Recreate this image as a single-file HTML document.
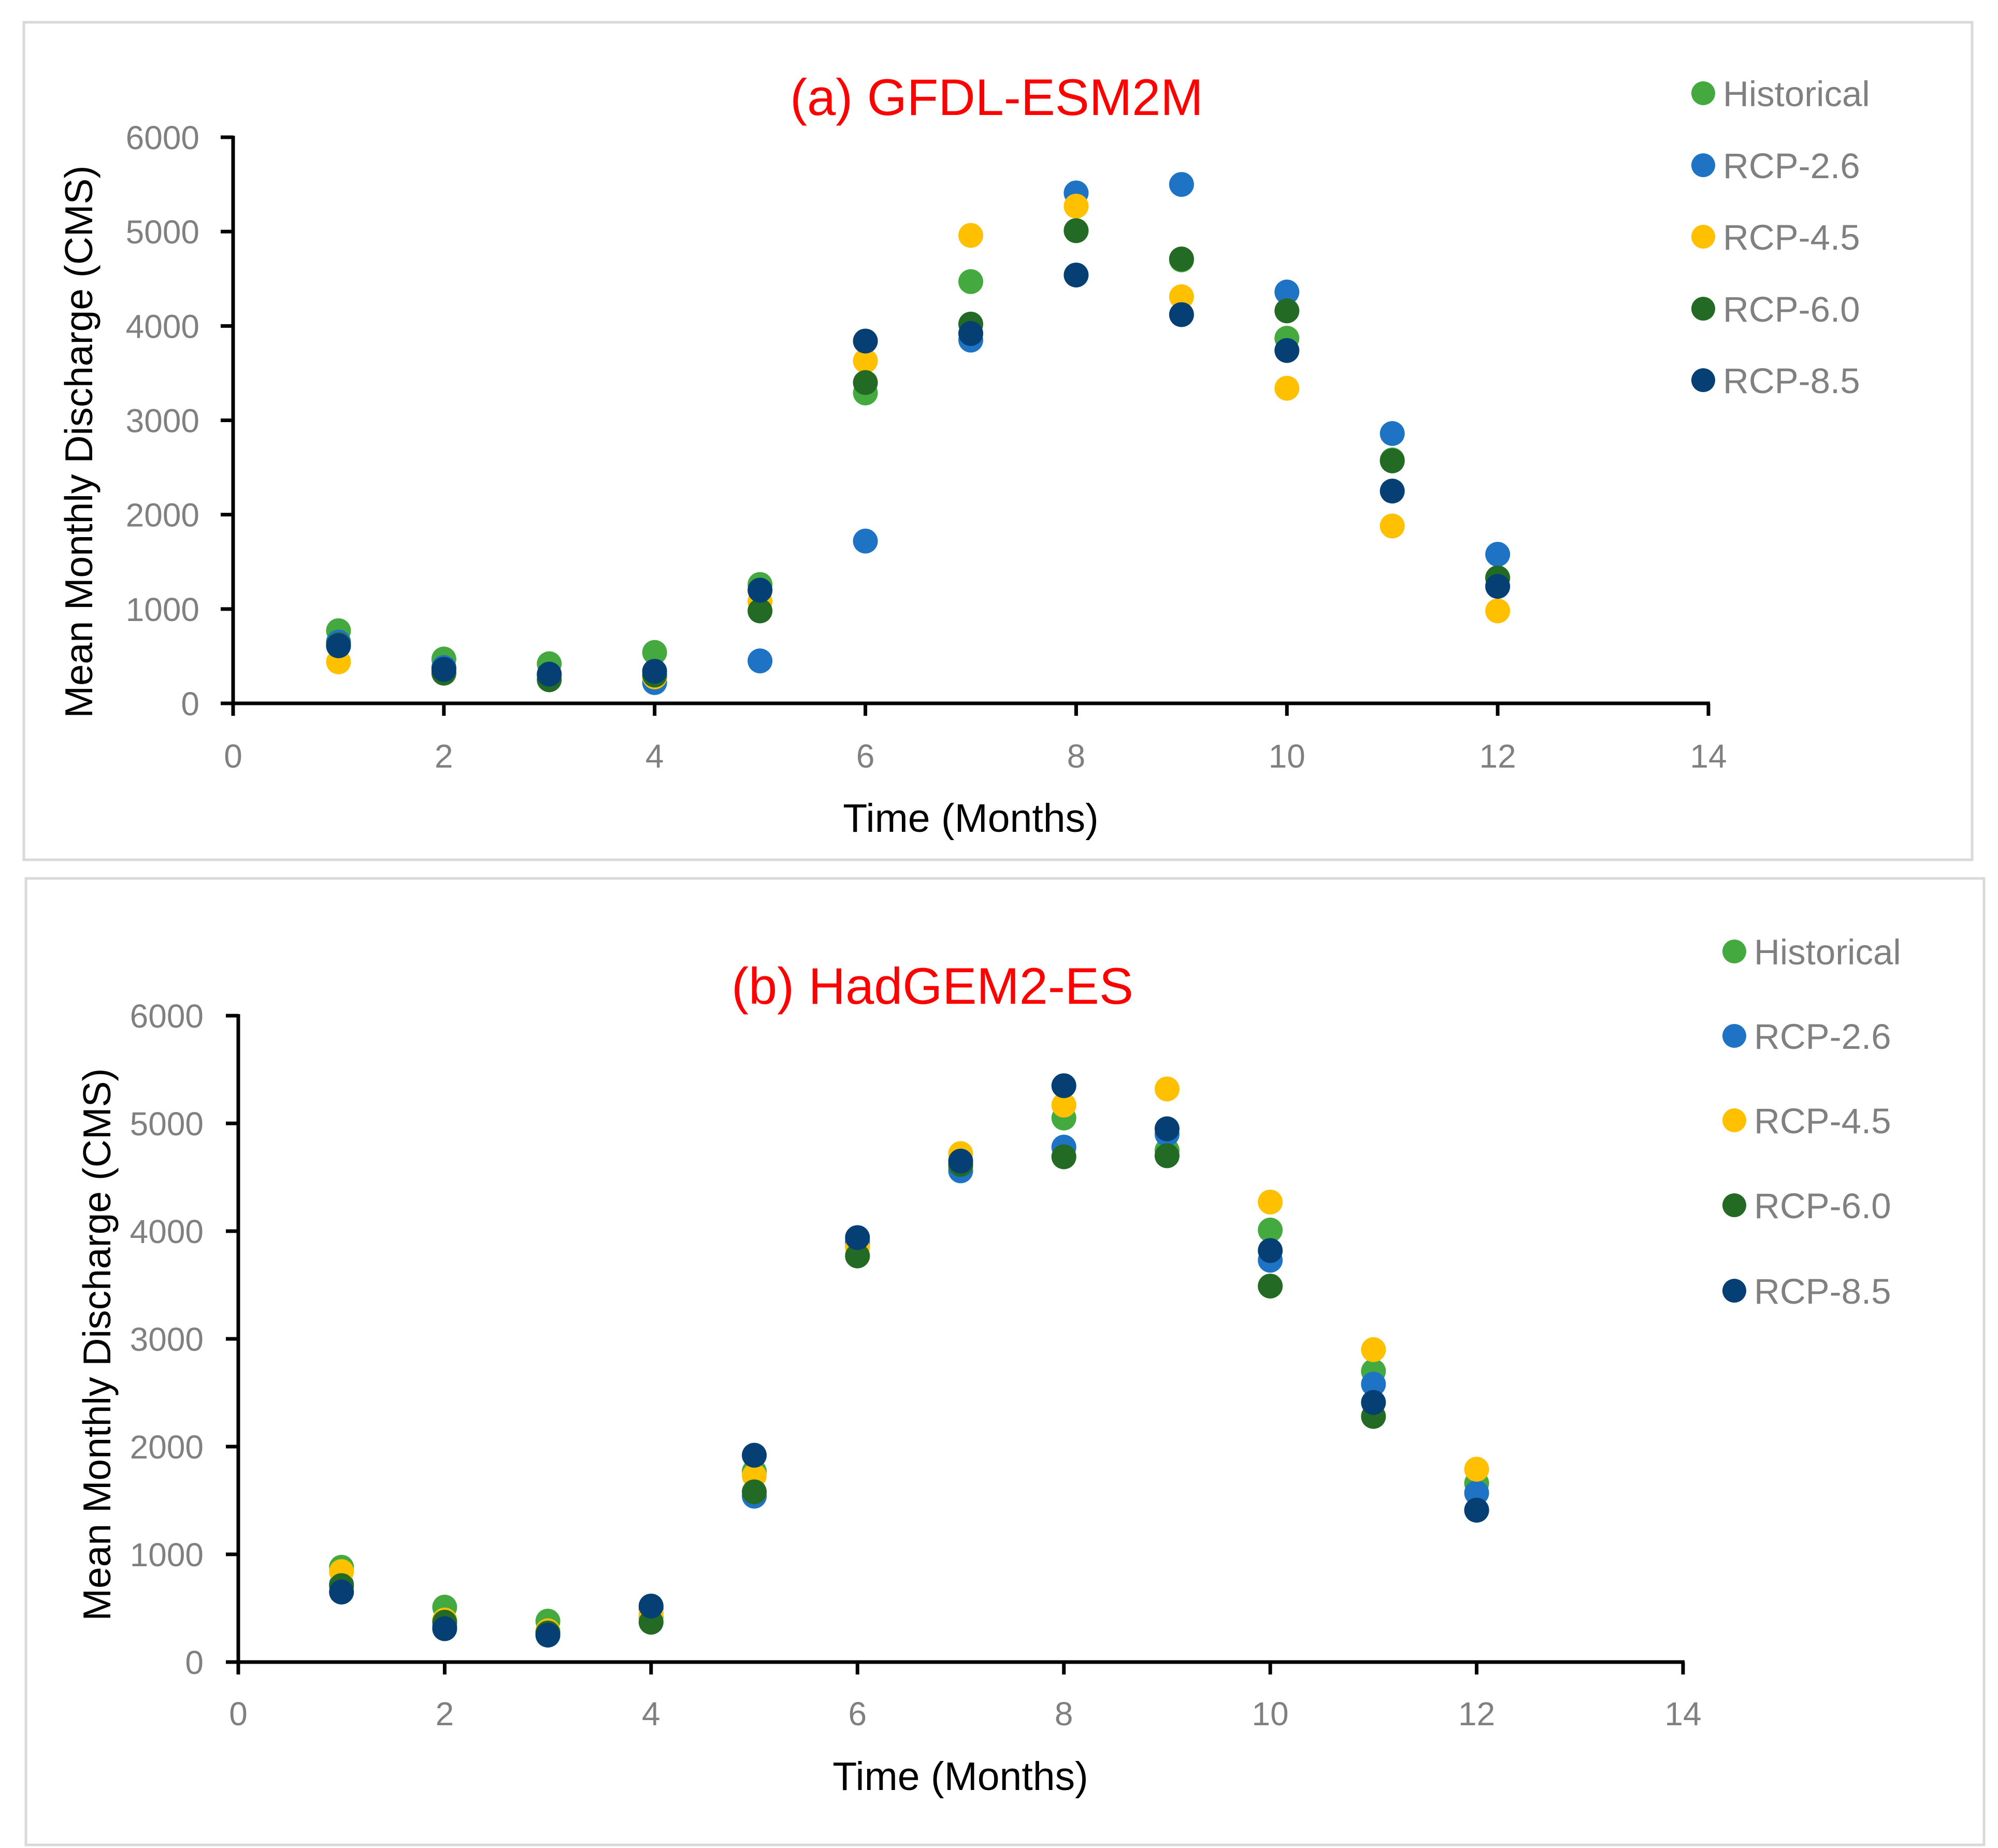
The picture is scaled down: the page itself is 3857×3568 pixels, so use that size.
<!DOCTYPE html>
<html><head><meta charset="utf-8"><style>
html,body{margin:0;padding:0;background:#fff}
svg{display:block}
text{font-family:"Liberation Sans",sans-serif}
</style></head><body>
<svg id="chart" width="3857" height="3568" viewBox="0 0 3857 3568" xmlns="http://www.w3.org/2000/svg"></svg>
<script>
const months = [1,2,3,4,5,6,7,8,9,10,11,12];
const seriesNames = ["Historical","RCP-2.6","RCP-4.5","RCP-6.0","RCP-8.5"];
const seriesColors = ["#44AA3F","#1F73C5","#FFC000","#236B24","#053F73"];
const xTicks = [0,2,4,6,8,10,12,14];
const yTicks = [0,1000,2000,3000,4000,5000,6000];
// Panel (a) GFDL-ESM2M
const aHistorical = [770,470,420,540,1260,3290,4470,5010,4700,3870,2580,1330];
const aRcp26 = [650,380,300,220,450,1720,3850,5410,5500,4360,2860,1580];
const aRcp45 = [440,330,260,280,1080,3630,4960,5270,4310,3340,1880,980];
const aRcp60 = [620,320,250,300,980,3400,4020,5010,4710,4160,2570,1330];
const aRcp85 = [610,360,310,340,1200,3840,3920,4540,4120,3740,2250,1240];
// Panel (b) HadGEM2-ES
const bHistorical = [880,510,380,420,1770,3870,4600,5050,4750,4010,2700,1660];
const bRcp26 = [720,330,280,500,1540,3900,4560,4780,4900,3730,2580,1570];
const bRcp45 = [840,390,290,450,1730,3850,4720,5170,5320,4270,2900,1790];
const bRcp60 = [710,370,270,370,1580,3770,4620,4690,4700,3490,2280,1410];
const bRcp85 = [650,310,250,520,1920,3940,4650,5350,4950,3820,2410,1410];

const NS="http://www.w3.org/2000/svg";
const svg=document.getElementById('chart');
function mk(tag,attrs,parent,txt){const e=document.createElementNS(NS,tag);for(const k in attrs)e.setAttribute(k,attrs[k]);if(txt!==undefined)e.textContent=txt;(parent||svg).appendChild(e);return e;}

const panels=[
 {id:'a',title:'(a) GFDL-ESM2M',box:[46,43,3761,1617],x0:450,x1:3298,y0:1358,y1:265,
  titleX:1924,titleY:222,ytX:178,ytY:853,xtX:1874,xtY:1606,tickLX:385,tickLY:1482,
  legX:3288,legY:[180,319,457,596,734],data:[aHistorical,aRcp26,aRcp45,aRcp60,aRcp85]},
 {id:'b',title:'(b) HadGEM2-ES',box:[50,1696,3780,1866],x0:460,x1:3249,y0:3209,y1:1961,
  titleX:1800,titleY:1938,ytX:213,ytY:2596,xtX:1854,xtY:3456,tickLX:393,tickLY:3331,
  legX:3348,legY:[1837,2000,2163,2327,2492],data:[bHistorical,bRcp26,bRcp45,bRcp60,bRcp85]}
];

panels.forEach(p=>{
  const g=mk('g',{});
  
  
  const frame=mk('rect',{x:p.box[0],y:p.box[1],width:p.box[2],height:p.box[3],fill:'#fff',stroke:'#d9d9d9','stroke-width':5},g);
  
  
  const xs=v=>p.x0+(v-0)/(14-0)*(p.x1-p.x0);
  const ys=v=>p.y0-(v-0)/(6000-0)*(p.y0-p.y1);
  const t=mk('text',{x:p.titleX,y:p.titleY,'text-anchor':'middle','font-size':99,fill:'#FF0000'},g,p.title);
  
  
  yTicks.forEach(v=>{
    const tk=mk('line',{x1:p.x0-24,x2:p.x0,y1:ys(v),y2:ys(v),stroke:'#000','stroke-width':7},g);
    
    
    const lb=mk('text',{x:p.tickLX,y:ys(v)+23,'text-anchor':'end','font-size':64,fill:'#808080'},g,String(v));
    
    
  });
  xTicks.forEach(v=>{
    const tk=mk('line',{x1:xs(v),x2:xs(v),y1:p.y0,y2:p.y0+24,stroke:'#000','stroke-width':7},g);
    
    
    const lb=mk('text',{x:xs(v),y:p.tickLY,'text-anchor':'middle','font-size':64,fill:'#808080'},g,String(v));
    
    
  });
  const ya=mk('line',{x1:p.x0,x2:p.x0,y1:p.y1-3,y2:p.y0+3,stroke:'#000','stroke-width':7},g);
  
  
  const xa=mk('line',{x1:p.x0-3,x2:p.x1+3,y1:p.y0,y2:p.y0,stroke:'#000','stroke-width':7},g);
  
  
  const yt=mk('text',{x:0,y:0,transform:`translate(${p.ytX},${p.ytY}) rotate(-90)`,'text-anchor':'middle','font-size':75,fill:'#000'},g,'Mean Monthly Discharge (CMS)');
  
  
  const xt=mk('text',{x:p.xtX,y:p.xtY,'text-anchor':'middle','font-size':77,fill:'#000'},g,'Time (Months)');
  
  
  p.data.forEach((arr,si)=>{
    const sg=mk('g',{},g);
    
    
    arr.forEach((v,i)=>{
      const c=mk('circle',{cx:xs(months[i]),cy:ys(v),r:24,fill:seriesColors[si]},sg);
      
      
    });
  });
  seriesNames.forEach((n,si)=>{
    const lg=mk('g',{},g);
    
    
    mk('circle',{cx:p.legX,cy:p.legY[si],r:23,fill:seriesColors[si]},lg);
    mk('text',{x:p.legX+38,y:p.legY[si]+25,'font-size':69,fill:'#808080'},lg,n);
  });
});
</script>
</body></html>
